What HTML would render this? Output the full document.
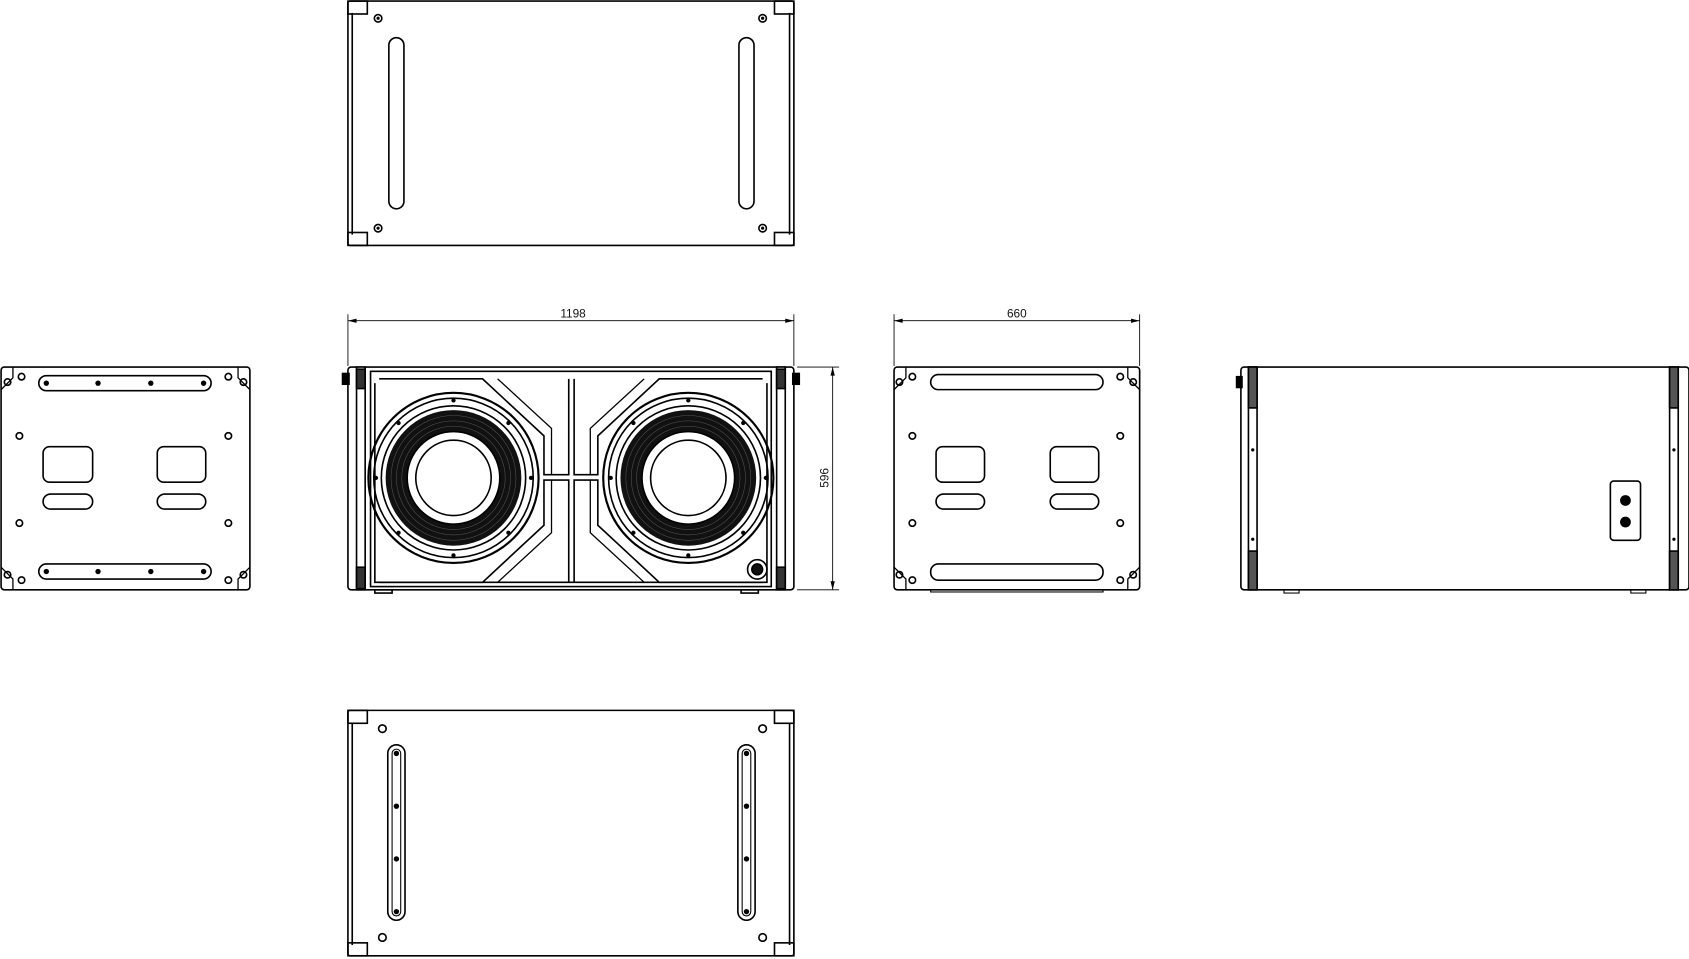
<!DOCTYPE html>
<html><head><meta charset="utf-8"><style>
html,body{margin:0;padding:0;background:#fff;width:1689px;height:959px;overflow:hidden}
svg{display:block}
text{font-family:"Liberation Sans",sans-serif;font-size:11px;fill:#111}
</style></head><body>
<svg width="1689" height="959" viewBox="0 0 1568 891" preserveAspectRatio="none" xmlns="http://www.w3.org/2000/svg">
<defs>
<g id="woofer">
  <circle r="79" fill="none" stroke="#000" stroke-width="2"/>
  <circle r="74" fill="none" stroke="#000" stroke-width="1.5"/>
  <circle r="67" fill="none" stroke="#000" stroke-width="1.5"/>
  <circle r="63" fill="#111"/>
  <circle r="58" fill="none" stroke="#555" stroke-width="0.5"/>
  <circle r="53" fill="none" stroke="#555" stroke-width="0.5"/>
  <circle r="48" fill="none" stroke="#555" stroke-width="0.5"/>
  <circle r="43" fill="#fff" stroke="#000" stroke-width="1.5"/>
  <circle r="35" fill="#fff" stroke="#000" stroke-width="1.5"/>
  <g fill="#000">
    <circle cx="0" cy="-72" r="2"/><circle cx="0" cy="72" r="2"/>
    <circle cx="-72" cy="0" r="2"/><circle cx="72" cy="0" r="2"/>
    <circle cx="-51" cy="-51" r="2"/><circle cx="51" cy="-51" r="2"/>
    <circle cx="-51" cy="51" r="2"/><circle cx="51" cy="51" r="2"/>
  </g>
</g>
</defs>
<g fill="none" stroke="#000" stroke-width="1.5">

<rect x="323" y="1" width="414" height="227" rx="2"/>
<line x1="327" y1="12" x2="327" y2="218"/>
<line x1="733" y1="12" x2="733" y2="218"/>
<rect x="323" y="1" width="18" height="12"/><rect x="719" y="1" width="18" height="12"/>
<rect x="323" y="216" width="18" height="12"/><rect x="719" y="216" width="18" height="12"/>
<rect x="361" y="35" width="14" height="159" rx="7"/>
<rect x="686" y="35" width="14" height="159" rx="7"/>
<circle cx="351" cy="17" r="3.5"/><circle cx="708" cy="17" r="3.5"/>
<circle cx="351" cy="212" r="3.5"/><circle cx="708" cy="212" r="3.5"/>
<g fill="#000" stroke="none"><circle cx="351" cy="17" r="1.5"/><circle cx="708" cy="17" r="1.5"/><circle cx="351" cy="212" r="1.5"/><circle cx="708" cy="212" r="1.5"/></g>

<rect x="323" y="660" width="414" height="228" rx="2"/>
<line x1="327" y1="672" x2="327" y2="878"/>
<line x1="733" y1="672" x2="733" y2="878"/>
<rect x="323" y="660" width="18" height="12"/><rect x="719" y="660" width="18" height="12"/>
<rect x="323" y="876" width="18" height="12"/><rect x="719" y="876" width="18" height="12"/>
<rect x="360" y="692" width="16" height="163" rx="8"/>
<rect x="685" y="692" width="16" height="163" rx="8"/>
<rect x="364" y="696" width="8" height="155" rx="4" stroke-width="1"/>
<rect x="689" y="696" width="8" height="155" rx="4" stroke-width="1"/>
<circle cx="355" cy="677" r="3.5"/><circle cx="708" cy="677" r="3.5"/>
<circle cx="355" cy="871" r="3.5"/><circle cx="708" cy="871" r="3.5"/>
<g fill="#000" stroke="none">
<circle cx="368" cy="700" r="2.5"/><circle cx="368" cy="749" r="2.5"/><circle cx="368" cy="798" r="2.5"/><circle cx="368" cy="847" r="2.5"/>
<circle cx="693" cy="700" r="2.5"/><circle cx="693" cy="749" r="2.5"/><circle cx="693" cy="798" r="2.5"/><circle cx="693" cy="847" r="2.5"/>
</g>

<rect x="323" y="341" width="414" height="207" rx="3"/>
<rect x="331" y="341" width="8" height="207" fill="#fff"/>
<rect x="721" y="341" width="8" height="207" fill="#fff"/>
<rect x="331" y="343" width="8" height="18" fill="#333"/>
<rect x="721" y="343" width="8" height="18" fill="#333"/>
<rect x="331" y="527" width="8" height="20" fill="#333"/>
<rect x="721" y="527" width="8" height="20" fill="#333"/>
<rect x="344" y="345" width="372" height="200"/>
<path d="M348 356 V541 H712 V356"/>
<path d="M352 352 H448 L505 405 V441 H528 V352 M533 352 V441 H555 V405 L612 352 H708"/>
<path d="M462 352 L512 398 V441 M598 352 L548 398 V441" stroke-width="1.2"/>
<path d="M352 541 H448 L505 488 V446 H528 V541 M533 541 V446 H555 V488 L612 541 H708"/>
<path d="M462 541 L512 495 V446 M598 541 L548 495 V446" stroke-width="1.2"/>
<rect x="318" y="347" width="6" height="10" fill="#000"/>
<rect x="736" y="347" width="6" height="10" fill="#000"/>
<rect x="348" y="548" width="16" height="3"/><rect x="688" y="548" width="16" height="3"/>
<circle cx="703" cy="529" r="9"/><circle cx="703" cy="529" r="5" fill="#111"/>
</g>
<use href="#woofer" x="421" y="444"/>
<use href="#woofer" x="639" y="444"/>

<g fill="none" stroke="#000" stroke-width="1.5">
<g stroke-width="0.8">
<line x1="323" y1="298" x2="737" y2="298"/>
<line x1="323" y1="292" x2="323" y2="340"/><line x1="737" y1="292" x2="737" y2="340"/>
<line x1="830" y1="298" x2="1058" y2="298"/>
<line x1="830" y1="292" x2="830" y2="340"/><line x1="1058" y1="292" x2="1058" y2="340"/>
<line x1="773" y1="341" x2="773" y2="548"/>
<line x1="740" y1="341" x2="779" y2="341"/><line x1="740" y1="548" x2="779" y2="548"/>
</g>
<g fill="#000" stroke="none">
<path d="M323 298 l8 -2 v4z"/><path d="M737 298 l-8 -2 v4z"/>
<path d="M830 298 l8 -2 v4z"/><path d="M1058 298 l-8 -2 v4z"/>
<path d="M773 341 l-2 8 h4z"/><path d="M773 548 l-2 -8 h4z"/>
</g>

<rect x="1" y="341" width="231" height="207" rx="3"/>
<path d="M1 362 L12 351 V341 M232 362 L221 351 V341 M1 527 L12 538 V548 M232 527 L221 538 V548" stroke-width="1.2"/>
<rect x="36" y="349" width="160" height="14" rx="7"/>
<rect x="36" y="524" width="160" height="14" rx="7"/>
<rect x="40" y="415" width="46" height="33" rx="6"/>
<rect x="146" y="415" width="45" height="33" rx="6"/>
<rect x="40" y="459" width="46" height="14" rx="7"/>
<rect x="146" y="459" width="45" height="14" rx="7"/>
<circle cx="20" cy="350" r="3"/><circle cx="212" cy="350" r="3"/>
<circle cx="18" cy="405" r="3"/><circle cx="212" cy="405" r="3"/>
<circle cx="18" cy="486" r="3"/><circle cx="212" cy="486" r="3"/>
<circle cx="20" cy="539" r="3"/><circle cx="212" cy="539" r="3"/>
<circle cx="7" cy="355" r="3"/><circle cx="226" cy="355" r="3"/>
<circle cx="7" cy="534" r="3"/><circle cx="226" cy="534" r="3"/>
<g fill="#000" stroke="none">
<circle cx="43" cy="356" r="2.5"/><circle cx="91" cy="356" r="2.5"/><circle cx="140" cy="356" r="2.5"/><circle cx="189" cy="356" r="2.5"/>
<circle cx="43" cy="531" r="2.5"/><circle cx="91" cy="531" r="2.5"/><circle cx="140" cy="531" r="2.5"/><circle cx="189" cy="531" r="2.5"/>
</g>

<rect x="830" y="341" width="228" height="207" rx="3"/>
<path d="M830 362 L841 351 V341 M1058 362 L1047 351 V341 M830 527 L841 538 V548 M1058 527 L1047 538 V548" stroke-width="1.2"/>
<rect x="864" y="348" width="160" height="14" rx="7"/>
<rect x="864" y="524" width="160" height="15" rx="7"/>
<rect x="869" y="415" width="45" height="33" rx="6"/>
<rect x="975" y="415" width="45" height="33" rx="6"/>
<rect x="869" y="459" width="45" height="14" rx="7"/>
<rect x="975" y="459" width="45" height="14" rx="7"/>
<circle cx="847" cy="350" r="3"/><circle cx="1040" cy="350" r="3"/>
<circle cx="847" cy="405" r="3"/><circle cx="1040" cy="405" r="3"/>
<circle cx="847" cy="486" r="3"/><circle cx="1040" cy="486" r="3"/>
<circle cx="847" cy="539" r="3"/><circle cx="1040" cy="539" r="3"/>
<circle cx="835" cy="355" r="3"/><circle cx="1052" cy="355" r="3"/>
<circle cx="835" cy="534" r="3"/><circle cx="1052" cy="534" r="3"/>
<rect x="864" y="548" width="160" height="2" stroke-width="1"/>

<rect x="1152" y="341" width="416" height="207" rx="3"/>
<rect x="1159" y="341" width="8" height="207" fill="#fff"/>
<rect x="1159" y="341" width="8" height="38" fill="#555"/>
<rect x="1159" y="512" width="8" height="36" fill="#555"/>
<rect x="1550" y="341" width="8" height="207" fill="#fff"/>
<rect x="1550" y="341" width="8" height="38" fill="#555"/>
<rect x="1550" y="512" width="8" height="36" fill="#555"/>
<rect x="1148" y="350" width="5" height="10" fill="#000"/>
<rect x="1495" y="447" width="28" height="55" rx="3"/>
<g fill="#000" stroke="none">
<circle cx="1509" cy="465" r="5"/><circle cx="1509" cy="485" r="5"/>
<circle cx="1163" cy="418" r="1.5"/><circle cx="1163" cy="501" r="1.5"/>
<circle cx="1554" cy="418" r="1.5"/><circle cx="1554" cy="501" r="1.5"/>
</g>
<rect x="1192" y="548" width="14" height="3" stroke-width="1"/><rect x="1514" y="548" width="14" height="3" stroke-width="1"/>
</g>

<text x="532" y="295" text-anchor="middle">1198</text>
<text x="944" y="295" text-anchor="middle">660</text>
<text x="769" y="444" text-anchor="middle" transform="rotate(-90 769 444)">596</text>
</svg>
</body></html>
